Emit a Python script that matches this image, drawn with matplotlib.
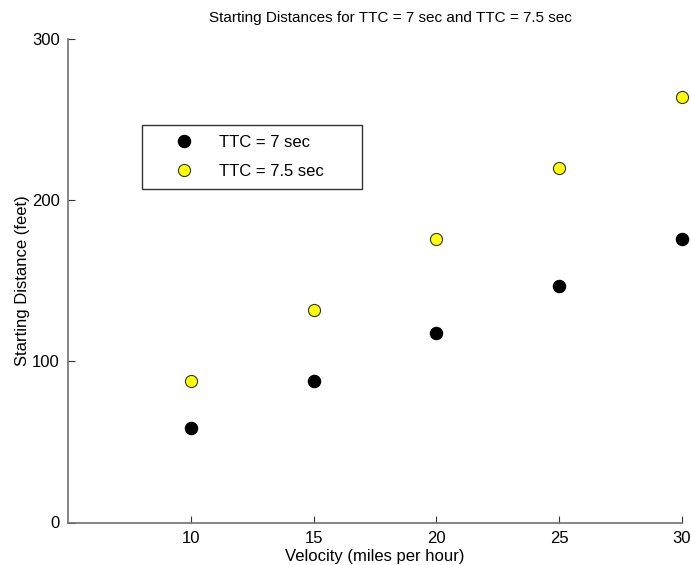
import matplotlib
matplotlib.use('Agg')
import matplotlib.pyplot as plt

plt.rcParams['font.family'] = ['Liberation Sans', 'DejaVu Sans']

velocity = [10, 15, 20, 25, 30]
dist_7 = [58.7, 88, 117.3, 146.7, 176]
dist_75 = [88, 132, 176, 220, 264]

fig = plt.figure(figsize=(6.91, 5.65), dpi=100)
ax = fig.add_axes([68/691, 1-522.5/565, 614/691, 483.5/565])

ax.plot(velocity, dist_7, 'o', color='black', markersize=8.7, clip_on=False, label='TTC = 7 sec')
ax.plot(velocity, dist_75, 'o', markerfacecolor='#ffff00', markeredgecolor='#333333',
        markeredgewidth=0.8, markersize=8.7, clip_on=False, label='TTC = 7.5 sec')

ax.set_xlim(5, 30)
ax.set_ylim(0, 300)
ax.set_xticks([10, 15, 20, 25, 30])
ax.set_yticks([0, 100, 200, 300])
ax.spines['top'].set_visible(False)
ax.spines['right'].set_visible(False)
for s in ['left', 'bottom']:
    ax.spines[s].set_color('#707070')
    ax.spines[s].set_linewidth(1.2)
ax.tick_params(direction='in', length=5, width=0.8, colors='#333333', labelsize=12,
               labelcolor='black', pad=6)

ax.set_title('Starting Distances for TTC = 7 sec and TTC = 7.5 sec', fontsize=11, pad=12,
             x=(390-68)/614)
ax.set_xlabel('Velocity (miles per hour)', fontsize=12, labelpad=2)
ax.set_ylabel('Starting Distance (feet)', fontsize=12, labelpad=1)

leg = ax.legend(loc='upper left',
                bbox_to_anchor=(74/614, 1-(190-39)/483.5, 220/614, 65/483.5),
                mode='expand', borderaxespad=0, fancybox=False, frameon=True,
                fontsize=12, handletextpad=0.2, borderpad=0.6, labelspacing=0.85,
                handlelength=3.8)
leg.get_frame().set_edgecolor('black')
leg.get_frame().set_linewidth(1.0)

fig.savefig('out.png', dpi=100)
